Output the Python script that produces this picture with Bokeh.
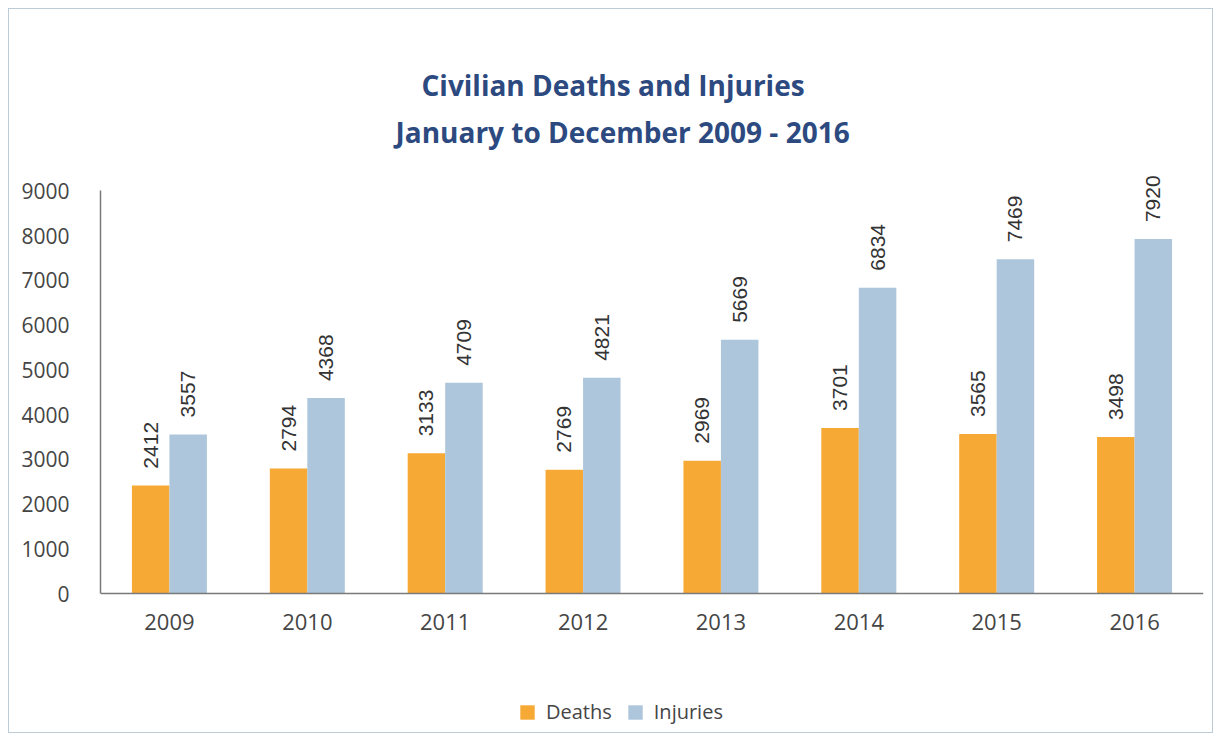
import math
from bokeh.plotting import figure
from bokeh.models import (ColumnDataSource, FactorRange, LabelSet, Title, Legend, LegendItem,
                          SingleIntervalTicker)
from bokeh.core.properties import value
from bokeh.transform import dodge
from bokeh.embed import file_html
from bokeh.resources import INLINE

years = ["2009", "2010", "2011", "2012", "2013", "2014", "2015", "2016"]
deaths = [2412, 2794, 3133, 2769, 2969, 3701, 3565, 3498]
injuries = [3557, 4368, 4709, 4821, 5669, 6834, 7469, 7920]

title_line1 = "Civilian Deaths and Injuries"
title_line2 = "January to December 2009 - 2016"

src = ColumnDataSource(dict(
    years=years, deaths=deaths, injuries=injuries,
    deaths_txt=[str(v) for v in deaths], injuries_txt=[str(v) for v in injuries],
))

ORANGE = "#F7A935"
BLUE = "#ADC6DC"
TITLE_C = "#2D4A80"
TXT = "#454545"
FONT = "Open Sans"

# frame extends below zero (legend inside) and above 9000 (value labels); x axis pinned at y=0
p = figure(x_range=FactorRange(*years, range_padding=0), y_range=(-3149, 9900),
           width=1205, height=725, output_backend="svg", toolbar_location=None,
           min_border_left=91, min_border_right=11, min_border_top=141, min_border_bottom=0)
p.styles = {"border": "1px solid #BCCBD8", "margin-left": "8px", "margin-top": "8px"}
p.outline_line_color = None
p.xgrid.grid_line_color = None
p.ygrid.grid_line_color = None

r1 = p.vbar(x=dodge("years", -0.136, range=p.x_range), top="deaths", width=0.272,
            source=src, color=ORANGE, line_color=None)
r2 = p.vbar(x=dodge("years", 0.136, range=p.x_range), top="injuries", width=0.272,
            source=src, color=BLUE, line_color=None)

for col, txt, off in (("deaths", "deaths_txt", -0.136), ("injuries", "injuries_txt", 0.136)):
    p.add_layout(LabelSet(x=dodge("years", off, range=p.x_range), y=col, text=txt, source=src,
                          angle=math.pi / 2, text_align="left", text_baseline="middle",
                          y_offset=17, text_font=value("Liberation Sans"),
                          text_font_size=value("21px"), text_color="#333333"))

p.yaxis.ticker = SingleIntervalTicker(interval=1000)
p.yaxis.bounds = (0, 9000)
p.xaxis.fixed_location = 0
for ax in (p.xaxis, p.yaxis):
    ax.axis_line_color = "#7A7A7A"
    ax.axis_line_width = 1.5
    ax.major_tick_line_color = None
    ax.minor_tick_line_color = None
    ax.major_label_text_font = FONT
    ax.major_label_text_font_size = "21px"
    ax.major_label_text_color = TXT
p.xaxis.major_label_text_font_size = "22px"
p.yaxis.major_label_standoff = 25
p.xaxis.major_label_standoff = 14

# subtitle first (closest to frame), then main title above it
p.add_layout(Title(text=title_line2, align="left", text_font=FONT, text_font_style="bold",
                   text_font_size="28px", text_color=TITLE_C, standoff=0,
                   vertical_align="bottom", offset=295), "above")
p.add_layout(Title(text=title_line1, align="left", text_font=FONT, text_font_style="bold",
                   text_font_size="28px", text_color=TITLE_C, standoff=13,
                   vertical_align="bottom", offset=321), "above")

legend = Legend(items=[LegendItem(label="Deaths", renderers=[r1]),
                       LegendItem(label="Injuries", renderers=[r2])],
                orientation="horizontal", location=(418, 9),
                border_line_color=None, background_fill_alpha=0,
                label_text_font=FONT, label_text_font_size="20px", label_text_color=TXT,
                glyph_width=18, glyph_height=18, spacing=14, label_standoff=10,
                margin=0, padding=5)
p.add_layout(legend)

open("out.html", "w").write(file_html(p, INLINE))
